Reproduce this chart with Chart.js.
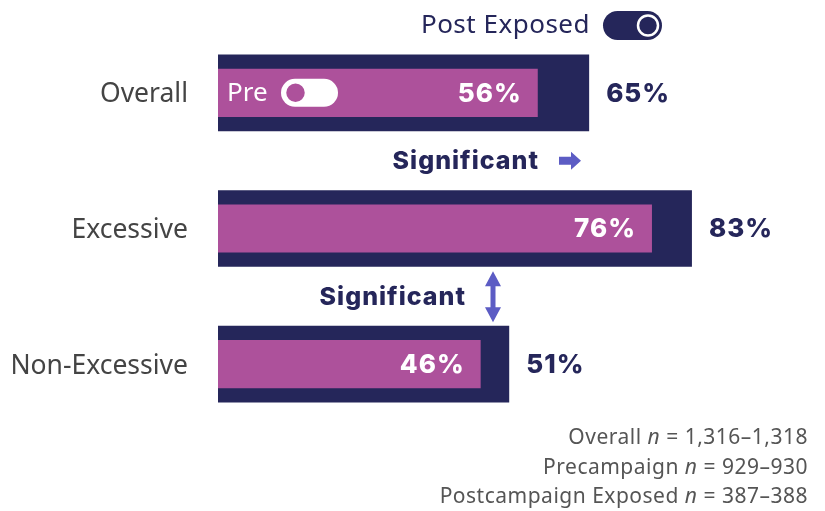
<!DOCTYPE html>
<html>
<head>
<meta charset="utf-8">
<script src="https://cdn.jsdelivr.net/npm/chart.js@4.4.1/dist/chart.umd.min.js"></script>
<style>
  html, body { margin: 0; padding: 0; background: #fff; }
  canvas { display: block; }
</style>
</head>
<body>
<canvas id="chart" width="825" height="511"></canvas>
<script>
// data
const categories = ['Overall', 'Excessive', 'Non-Excessive'];
const preValues = [56, 76, 46];
const postValues = [65, 83, 51];
const footnotes = [
    ['Overall ', 'n', ' = 1,316\u20131,318'],
    ['Precampaign ', 'n', ' = 929\u2013930'],
    ['Postcampaign Exposed ', 'n', ' = 387\u2013388']
];

const NAVY = '#25265a';
const MAGENTA = '#ad519b';
const ARROW = '#5c5cc4';
const SANS = '"Noto Sans", "Open Sans", sans-serif';
const BOLD = 'Inter, "Noto Sans", sans-serif';

// labels at the end of each bar
const barLabels = {
    id: 'barLabels',
    afterDatasetsDraw(chart) {
        const ctx = chart.ctx;
        ctx.save();
        ctx.font = '800 26px ' + BOLD;
        ctx.letterSpacing = '1px';
        ctx.textBaseline = 'middle';
        chart.getDatasetMeta(0).data.forEach((bar, i) => {
            ctx.fillStyle = '#fff';
            ctx.textAlign = 'right';
            ctx.fillText(preValues[i] + '%', bar.x - 16, bar.y + 1);
        });
        chart.getDatasetMeta(1).data.forEach((bar, i) => {
            ctx.fillStyle = NAVY;
            ctx.textAlign = 'left';
            ctx.fillText(postValues[i] + '%', bar.x + 17, bar.y + 1);
        });
        ctx.restore();
    }
};

function pill(ctx, x, y, w, h) {
    const r = h / 2;
    ctx.beginPath();
    ctx.moveTo(x + r, y);
    ctx.lineTo(x + w - r, y);
    ctx.arc(x + w - r, y + r, r, -Math.PI / 2, Math.PI / 2);
    ctx.lineTo(x + r, y + h);
    ctx.arc(x + r, y + r, r, Math.PI / 2, Math.PI * 1.5);
    ctx.closePath();
}

// toggles, significance marks and sample sizes
const decorations = {
    id: 'decorations',
    afterDraw(chart) {
        const ctx = chart.ctx;
        const y = chart.scales.y;
        ctx.save();

        // "Post Exposed" toggle
        ctx.font = '26px ' + SANS;
        ctx.letterSpacing = '0.5px';
        ctx.fillStyle = NAVY;
        ctx.textAlign = 'right';
        ctx.textBaseline = 'alphabetic';
        ctx.fillText('Post Exposed', 590, 33);
        ctx.letterSpacing = '0px';
        ctx.fillStyle = NAVY;
        pill(ctx, 603, 11, 59, 29);
        ctx.fill();
        ctx.beginPath();
        ctx.arc(648, 25.5, 10, 0, Math.PI * 2);
        ctx.fillStyle = NAVY;
        ctx.fill();
        ctx.strokeStyle = '#fff';
        ctx.lineWidth = 2.5;
        ctx.stroke();

        // "Pre" toggle inside the first bar
        const y0 = y.getPixelForValue(0);
        ctx.fillStyle = '#fff';
        ctx.textAlign = 'left';
        ctx.font = '26px ' + SANS;
        ctx.textBaseline = 'middle';
        ctx.fillText('Pre', 227, y0 + 1);
        pill(ctx, 281, y0 - 14, 57, 28);
        ctx.fill();
        ctx.beginPath();
        ctx.arc(295.5, y0, 10.5, 0, Math.PI * 2);
        ctx.fillStyle = MAGENTA;
        ctx.fill();
        ctx.strokeStyle = '#fff';
        ctx.lineWidth = 2.5;
        ctx.stroke();

        // Significant: Overall post vs pre
        const s1 = (y.getPixelForValue(0) + y.getPixelForValue(1)) / 2;
        ctx.font = '800 25px ' + BOLD;
        ctx.letterSpacing = '1px';
        ctx.fillStyle = NAVY;
        ctx.textAlign = 'right';
        ctx.fillText('Significant', 539, s1 + 1);
        ctx.letterSpacing = '0px';
        ctx.fillStyle = ARROW;
        ctx.beginPath();
        ctx.moveTo(559, s1 - 4);
        ctx.lineTo(571, s1 - 4);
        ctx.lineTo(571, s1 - 9);
        ctx.lineTo(581, s1);
        ctx.lineTo(571, s1 + 9);
        ctx.lineTo(571, s1 + 4);
        ctx.lineTo(559, s1 + 4);
        ctx.closePath();
        ctx.fill();

        // Significant: Excessive vs Non-Excessive
        const s2 = (y.getPixelForValue(1) + y.getPixelForValue(2)) / 2;
        ctx.fillStyle = NAVY;
        ctx.letterSpacing = '1px';
        ctx.fillText('Significant', 466, s2 + 1);
        ctx.letterSpacing = '0px';
        const ax = 493, top = s2 - 25, bot = s2 + 26;
        ctx.fillStyle = ARROW;
        ctx.beginPath();
        ctx.moveTo(ax, top);
        ctx.lineTo(ax + 8, top + 15);
        ctx.lineTo(ax + 2.5, top + 15);
        ctx.lineTo(ax + 2.5, bot - 15);
        ctx.lineTo(ax + 8, bot - 15);
        ctx.lineTo(ax, bot);
        ctx.lineTo(ax - 8, bot - 15);
        ctx.lineTo(ax - 2.5, bot - 15);
        ctx.lineTo(ax - 2.5, top + 15);
        ctx.lineTo(ax - 8, top + 15);
        ctx.closePath();
        ctx.fill();

        // sample sizes, right aligned, italic n
        ctx.fillStyle = '#555';
        ctx.textAlign = 'left';
        ctx.textBaseline = 'alphabetic';
        ctx.letterSpacing = '0.5px';
        footnotes.forEach((parts, i) => {
            const fonts = ['21px ' + SANS, 'italic 21px ' + SANS, '21px ' + SANS];
            let w = 0;
            parts.forEach((p, j) => { ctx.font = fonts[j]; w += ctx.measureText(p).width; });
            let x = 808 - w;
            parts.forEach((p, j) => {
                ctx.font = fonts[j];
                ctx.fillText(p, x, 444 + i * 29.5);
                x += ctx.measureText(p).width;
            });
        });

        ctx.restore();
    }
};

new Chart(document.getElementById('chart'), {
    type: 'bar',
    data: {
        labels: categories,
        datasets: [
            {
                label: 'Pre',
                data: preValues,
                backgroundColor: MAGENTA,
                grouped: false,
                categoryPercentage: 1,
                barPercentage: 0.355
            },
            {
                label: 'Post Exposed',
                data: postValues,
                backgroundColor: NAVY,
                grouped: false,
                categoryPercentage: 1,
                barPercentage: 0.565
            }
        ]
    },
    options: {
        indexAxis: 'y',
        responsive: false,
        animation: false,
        layout: { padding: { top: 25, right: 36, bottom: 79, left: 0 } },
        plugins: { legend: { display: false }, tooltip: { enabled: false } },
        scales: {
            x: { display: false, min: 0, max: 100 },
            y: {
                border: { display: false },
                grid: { display: false, drawTicks: false },
                ticks: { padding: 30, labelOffset: 2, color: '#444', font: { family: SANS, size: 26.5 } },
                afterFit(scale) {
                    scale.width = 218;
                    scale.paddingTop = 0;
                    scale.paddingBottom = 0;
                }
            }
        }
    },
    plugins: [barLabels, decorations]
});
</script>
</body>
</html>
